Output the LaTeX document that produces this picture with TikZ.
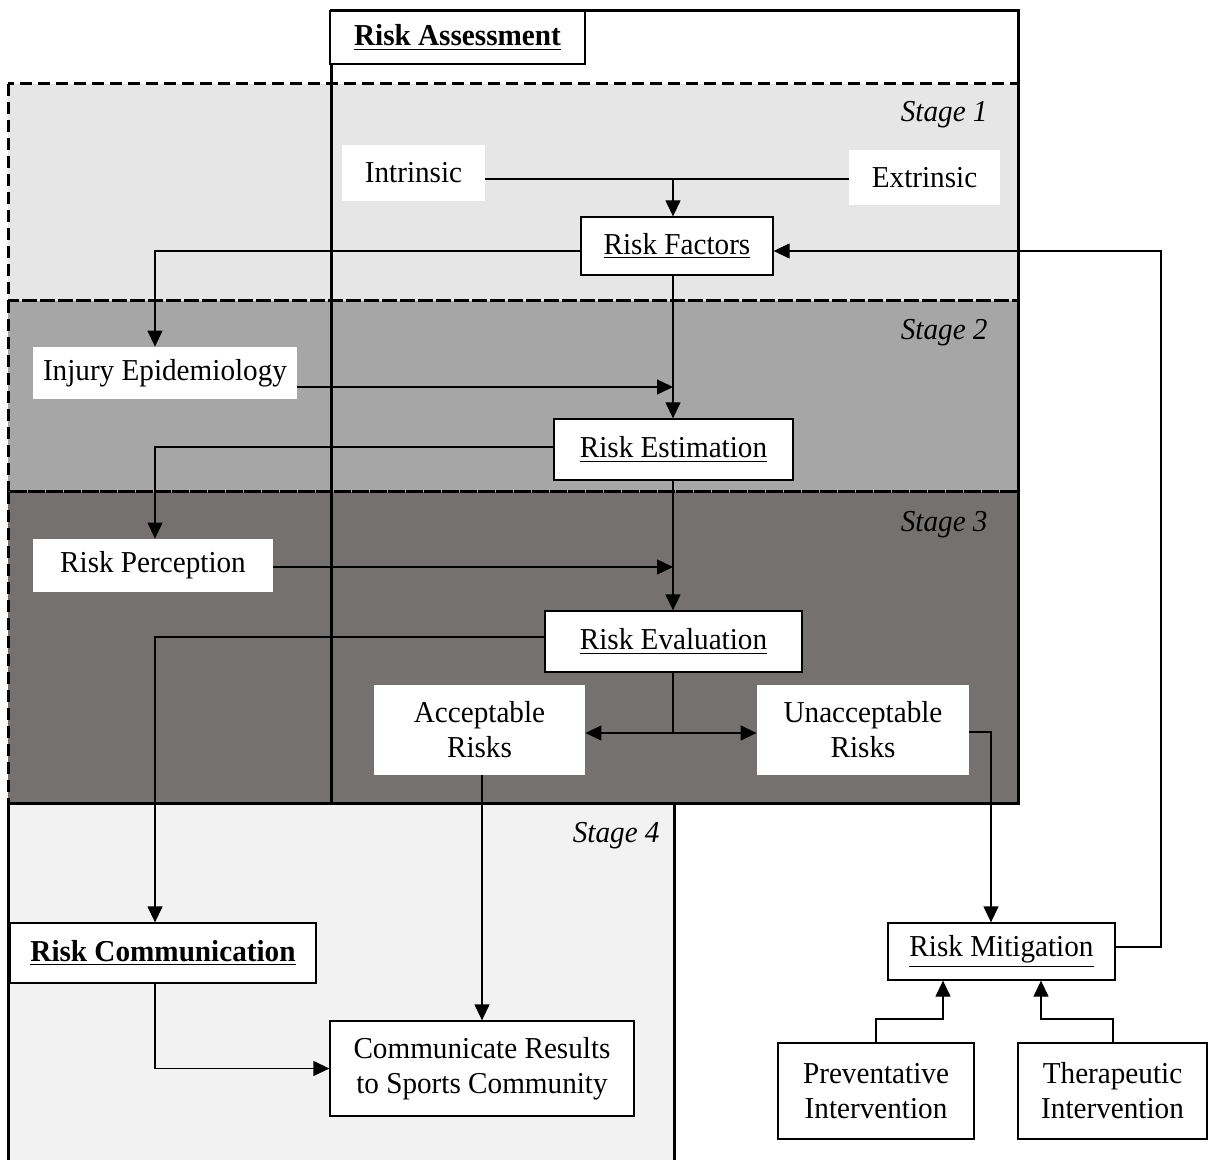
\documentclass[tikz,border=0pt]{standalone}
\usepackage{fontspec}
\setmainfont[FakeStretch=0.96]{Liberation Serif}
\usetikzlibrary{arrows.meta}
\definecolor{sone}{HTML}{E6E6E6}
\definecolor{stwo}{HTML}{A6A6A6}
\definecolor{sthree}{HTML}{767171}
\definecolor{sfour}{HTML}{F2F2F2}
\tikzset{
  txt/.style={font=\fontsize{15.2}{17.5}\selectfont, align=center, inner sep=0pt},
  box/.style={txt, draw=black, fill=white, line width=0.65pt},
  plain/.style={txt, fill=white},
  conn/.style={line width=0.65pt},
  arr/.style={conn, -{Triangle[length=8pt,width=7.5pt]}},
  stagefrm/.style={dash pattern=on 6pt off 3pt, line width=1.5pt},
  bigbox/.style={line width=1.5pt},
  stagelbl/.style={font=\fontsize{15.2}{17.5}\selectfont\itshape, anchor=east, inner sep=0pt}
}
\begin{document}
\begin{tikzpicture}[x=0.5pt,y=-0.5pt]
\useasboundingbox (0,0) rectangle (1216,1160);
\fill[white] (0,0) rectangle (1216,1160);
% stage fills
\fill[sone] (8,84) rectangle (1018,301);
\fill[stwo] (8,301) rectangle (1018,492);
\fill[sthree] (8,492) rectangle (1018,803);
\fill[sfour] (8,803) rectangle (674,1175);
% stage frames
\draw[stagefrm] (8,84) rectangle (1018,301);
\draw[stagefrm] (8,301) rectangle (1018,492);
\draw[stagefrm] (8,492) rectangle (1018,803);
% risk assessment frame
\draw[bigbox] (331,11) rectangle (1018,803);
\draw[bigbox] (8,803) rectangle (674,1175);
\node[txt, draw=black, line width=0.65pt, fill=white, minimum width=127.5pt, minimum height=26.5pt, font=\fontsize{15.2}{17.5}\selectfont\bfseries] (ra) at (457.5,37.5) {\underline{Risk Assessment}};
% stage labels
\node[stagelbl] (s1) at (988,115) {Stage 1};
\node[stagelbl] (s2) at (988,333) {Stage 2};
\node[stagelbl] (s3) at (988,525) {Stage 3};
\node[stagelbl] (s4) at (660,836) {Stage 4};
% nodes
\node[plain, minimum width=71.5pt, minimum height=28pt] (intr) at (413.5,173) {Intrinsic};
\node[plain, minimum width=75.5pt, minimum height=27.5pt] (extr) at (924.5,177.5) {Extrinsic};
\node[box, minimum width=96pt, minimum height=29pt] (rf) at (677,246) {\underline{Risk Factors}};
\node[plain, minimum width=132pt, minimum height=26pt] (ie) at (165,373) {Injury Epidemiology};
\node[box, minimum width=119.5pt, minimum height=30.5pt] (rest) at (673.5,449.5) {\underline{Risk Estimation}};
\node[plain, minimum width=120pt, minimum height=26.5pt] (rp) at (153,565.5) {Risk Perception};
\node[box, minimum width=128.5pt, minimum height=30.5pt] (rev) at (673.5,641.5) {\underline{Risk Evaluation}};
\node[plain, minimum width=105.5pt, minimum height=45pt] (acc) at (479.5,730) {Acceptable\\Risks};
\node[plain, minimum width=106pt, minimum height=45pt] (unacc) at (863,730) {Unacceptable\\Risks};
\node[box, minimum width=153pt, minimum height=30pt, font=\fontsize{15.2}{17.5}\selectfont\bfseries] (rc) at (163,953) {\underline{Risk Communication}};
\node[box, minimum width=152pt, minimum height=47.5pt] (crs) at (482,1068.5) {Communicate Results\\to Sports Community};
\node[box, minimum width=113.5pt, minimum height=28.5pt] (rm) at (1001.5,951.5) {\underline{Risk Mitigation}};
\node[box, minimum width=98pt, minimum height=48pt] (prev) at (876,1091) {Preventative\\Intervention};
\node[box, minimum width=94.5pt, minimum height=48pt] (ther) at (1112.5,1091) {Therapeutic\\Intervention};
% connectors
\coordinate (j1) at (673,179);
\draw[conn] (intr.east |- j1) -- (extr.west |- j1);
\draw[arr] (j1) -- (rf.north -| j1);
\draw[arr] (rf.south -| j1) -- (rest.north -| j1);
\draw[arr] (rf.west |- 0,251) -| (ie.north -| 155,0);
\draw[arr] (ie.east |- 0,387) -- (673,387);
\draw[arr] (rest.south -| j1) -- (rev.north -| j1);
\draw[arr] (rest.west |- 0,447) -| (rp.north -| 155,0);
\draw[arr] (rp.east |- 0,567) -- (673,567);
\draw[arr] (rev.west |- 0,637) -| (rc.north -| 155,0);
\coordinate (j2) at (673,733);
\draw[conn] (rev.south -| j2) -- (j2);
\draw[arr] (j2) -- (acc.east |- j2);
\draw[arr] (j2) -- (unacc.west |- j2);
\draw[arr] (unacc.east |- 0,732) -| (rm.north -| 991,0);
\draw[arr] (acc.south -| 482,0) -- (crs.north -| 482,0);
\draw[arr] (rc.south -| 155,0) |- (crs.west);
\draw[arr] (rm.east |- 0,947) -- (1161,947) |- (rf.east |- 0,251);
\draw[arr] (prev.north) -- (876,1019) -| (rm.south -| 943,0);
\draw[arr] (ther.north -| 1113,0) -- (1113,1019) -| (rm.south -| 1041,0);
\end{tikzpicture}
\end{document}
